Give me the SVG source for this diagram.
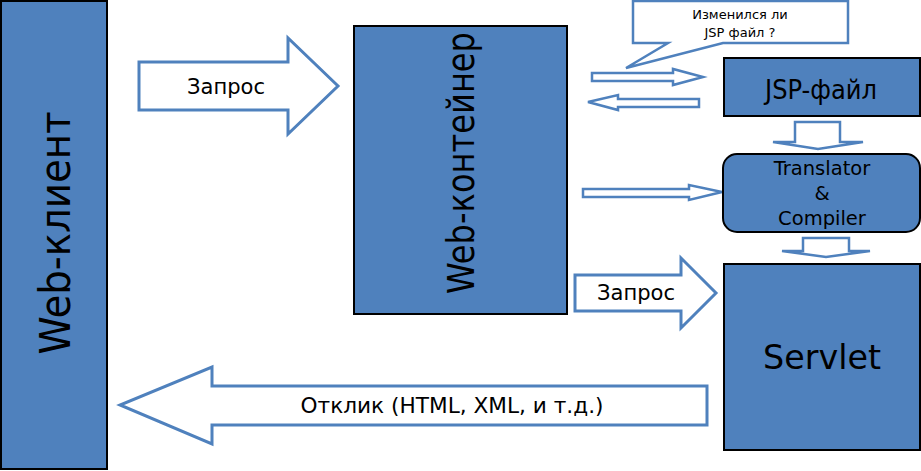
<svg xmlns="http://www.w3.org/2000/svg" width="921" height="471" viewBox="0 0 921 471">
<style>
.box{fill:#4f81bd;stroke:#000;stroke-width:2}
.arr{fill:#fff;stroke:#4f81bd;stroke-width:3;stroke-linejoin:miter}
.sarr{fill:#fff;stroke:#4f81bd;stroke-width:2.5}
text{font-family:"DejaVu Sans",sans-serif;fill:#000}
</style>
<rect width="921" height="471" fill="#fff"/>
<g id="connectors">
<g id="req1"><polygon class="arr" points="139,62 288,62 288,38 338,86 288,134 288,110 139,110"/><text x="226" y="94" font-size="22" text-anchor="middle" textLength="78" lengthAdjust="spacingAndGlyphs">Запрос</text></g>
<g id="req2"><polygon class="arr" points="575,275 681,275 681,258 716,293 681,328 681,311 575,311"/><text x="636" y="300" font-size="22" text-anchor="middle" textLength="78" lengthAdjust="spacingAndGlyphs">Запрос</text></g>
<g id="resp"><polygon class="arr" points="707,386 212,386 212,367 120,405 212,444 212,425 707,425"/><text x="452" y="413" font-size="22" text-anchor="middle" textLength="303" lengthAdjust="spacingAndGlyphs">Отклик (HTML, XML, и т.д.)</text></g>
<polygon class="sarr" points="592,73 673,73 673,69 703,77 673,85 673,81 592,81"/>
<polygon class="sarr" points="699,99 618,99 618,95 588,102 618,110 618,107 699,107"/>
<polygon class="sarr" points="583,189 689,189 689,185 722,192 689,200 689,197 583,197"/>
<polygon class="sarr" points="795,122 840,122 840,142 863,142 818,149 773,142 795,142"/>
<polygon class="sarr" points="803,238 849,238 849,251 870,251 826,257 782,251 803,251"/>
</g>
<g id="web-client"><rect class="box" x="1" y="1" width="106" height="468"/><text transform="translate(70,233) rotate(-90)" font-size="43" text-anchor="middle" textLength="243" lengthAdjust="spacingAndGlyphs">Web-клиент</text></g>
<g id="web-container"><rect class="box" x="354" y="26" width="213" height="288"/><text transform="translate(474,163) rotate(-90)" font-size="37" text-anchor="middle" textLength="262" lengthAdjust="spacingAndGlyphs">Web-контейнер</text></g>
<g id="jsp"><rect class="box" x="724" y="58" width="196" height="58"/><text x="821" y="99" font-size="27" text-anchor="middle" textLength="112" lengthAdjust="spacingAndGlyphs">JSP-файл</text></g>
<g id="translator"><rect class="box" x="723" y="154" width="197" height="78" rx="14" ry="14"/><text font-size="19.5" text-anchor="middle"><tspan x="822" y="175">Translator</tspan><tspan x="822" y="200">&amp;</tspan><tspan x="822" y="225">Compiler</tspan></text></g>
<g id="servlet"><rect class="box" x="724" y="264" width="196" height="186"/><text x="822" y="369" font-size="34" text-anchor="middle" textLength="118" lengthAdjust="spacingAndGlyphs">Servlet</text></g>
<g id="callout"><path d="M633,1 H848 V43 H723 L626,68 L668,43 H633 Z" fill="#fff" stroke="#4f81bd" stroke-width="2.5"/><text font-size="13" text-anchor="middle"><tspan x="740" y="19">Изменился ли</tspan><tspan x="740" y="37">JSP файл ?</tspan></text></g>
</svg>
